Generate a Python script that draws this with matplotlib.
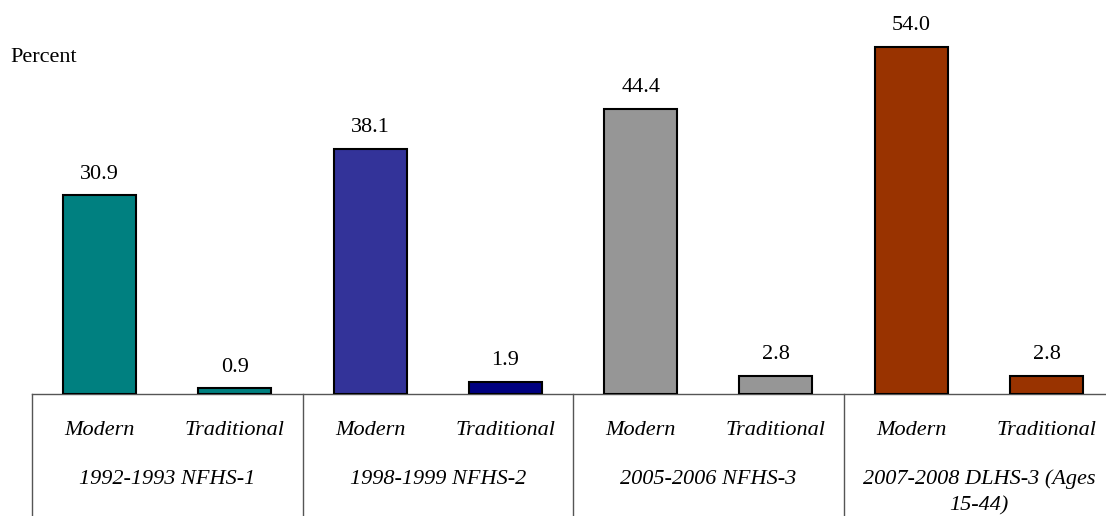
import matplotlib.pyplot as plt
import matplotlib.transforms as mtransforms

plt.rcParams['font.family'] = ['Liberation Serif', 'DejaVu Serif']

surveys = ['1992-1993 NFHS-1', '1998-1999 NFHS-2', '2005-2006 NFHS-3',
           '2007-2008 DLHS-3 (Ages\n15-44)']
methods = ['Modern', 'Traditional']
values = [30.9, 0.9, 38.1, 1.9, 44.4, 2.8, 54.0, 2.8]
colors = ['#008080', '#008080', '#333399', '#000080',
          '#969696', '#969696', '#993300', '#993300']

fig = plt.figure(figsize=(11.06, 5.16), dpi=100)
ax = fig.add_axes([32 / 1106, 122 / 516, 1074 / 1106, 394 / 516])

x = list(range(len(values)))
bars = ax.bar(x, values, width=0.54, color=colors, edgecolor='black',
              linewidth=1.5, zorder=3)

for xi, v in zip(x, values):
    ax.annotate('%.1f' % v, (xi, v), xytext=(0, 12), textcoords='offset points',
                ha='center', va='baseline', fontsize=16)

ax.set_xlim(-0.5, 7.44)
ax.set_ylim(0, 61.3)
for s in ['top', 'right', 'left']:
    ax.spines[s].set_visible(False)
ax.spines['bottom'].set_color('#555555')
ax.spines['bottom'].set_linewidth(1.0)
ax.set_xticks([])
ax.set_yticks([])

trans = mtransforms.blended_transform_factory(ax.transData, ax.transAxes)
for k in range(len(surveys) + 1):
    xs = -0.5 + 2 * k
    ax.plot([xs, xs], [0, -0.32], color='#555555', linewidth=1.0,
            transform=trans, clip_on=False)

for i, m in enumerate(methods * len(surveys)):
    ax.text(i, -0.0914, m, transform=trans, ha='center', va='center',
            fontsize=16, style='italic')

for k, s in enumerate(surveys):
    ax.text(2 * k + 0.5, -0.192, s, transform=trans, ha='center', va='top',
            fontsize=16, style='italic', linespacing=1.5)

fig.text(10 / 1106, 1 - 57 / 516, 'Percent', ha='left', va='center', fontsize=16)

fig.savefig('out.png', dpi=100)
